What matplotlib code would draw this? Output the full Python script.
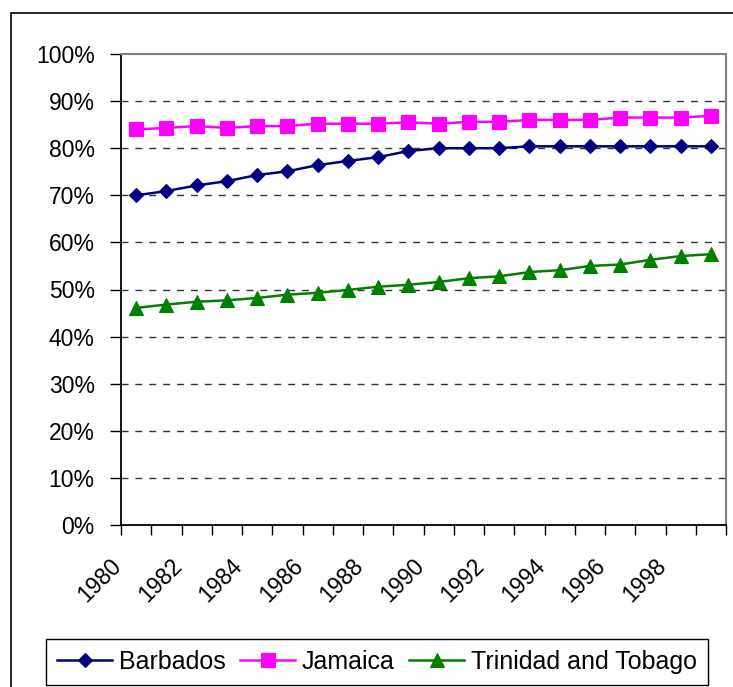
import numpy as np
import matplotlib.pyplot as plt
from matplotlib.patches import Rectangle
from matplotlib.ticker import PercentFormatter, FixedLocator
import matplotlib.transforms as mtransforms

# Dados (fracao da populacao, 1980-1999)
anos = list(range(1980, 2000))
barbados = [0.700, 0.709, 0.721, 0.730, 0.743, 0.751, 0.764, 0.773, 0.781, 0.794,
            0.800, 0.800, 0.800, 0.804, 0.804, 0.804, 0.804, 0.804, 0.804, 0.804]
jamaica = [0.840, 0.843, 0.847, 0.843, 0.847, 0.847, 0.852, 0.852, 0.852, 0.855,
           0.852, 0.856, 0.856, 0.860, 0.860, 0.860, 0.865, 0.865, 0.865, 0.869]
trinidad = [0.461, 0.468, 0.474, 0.477, 0.482, 0.489, 0.493, 0.499, 0.506, 0.510,
            0.516, 0.524, 0.528, 0.537, 0.541, 0.550, 0.553, 0.563, 0.571, 0.575]
series = ["Barbados", "Jamaica", "Trinidad and Tobago"]
y_ticks = [0.0, 0.1, 0.2, 0.3, 0.4, 0.5, 0.6, 0.7, 0.8, 0.9, 1.0]

plt.rcParams['font.family'] = ['Liberation Sans', 'DejaVu Sans']

fig = plt.figure(figsize=(7.33, 6.87), dpi=100)
W, H = 733, 687

# Moldura externa do grafico (estilo Excel)
fig.patches.append(Rectangle((11 / W, -0.1), 1.2, 1 - 13 / H + 0.1, transform=fig.transFigure,
                             fill=False, edgecolor='#000000', linewidth=1.2))

ax = fig.add_axes([121 / W, 1 - 525 / H, (726 - 121) / W, (525 - 54) / H])

x = np.arange(len(anos))
ax.plot(x, barbados, color='#000080', linewidth=1.8, marker='D', markersize=7.3,
        markeredgewidth=0.8, label=series[0], zorder=4)
ax.plot(x, jamaica, color='#FF00FF', linewidth=1.8, marker='s', markersize=9.5,
        markeredgewidth=0.8, label=series[1], zorder=3)
ax.plot(x, trinidad, color='#008000', linewidth=1.8, marker='^', markersize=10.5,
        markeredgewidth=0.8, label=series[2], zorder=3)

ax.set_xlim(-0.5, len(anos) - 0.5)
ax.set_ylim(0, 1)

# Eixo Y
ax.yaxis.set_major_locator(FixedLocator(y_ticks))
ax.yaxis.set_major_formatter(PercentFormatter(1.0, decimals=0))
ax.tick_params(axis='y', direction='out', length=8, width=1, pad=11, labelsize=16.5, colors='#000000')
for v in y_ticks[1:-1]:
    ax.axhline(v, color='#333333', linewidth=1, linestyle=(0, (5, 5)), zorder=1)

# Eixo X: marcas nas fronteiras das categorias, rotulo a cada dois anos
fronteiras = np.arange(len(anos) + 1) - 0.5
rotulos = [str(anos[i]) if i < len(anos) and i % 2 == 0 else '' for i in range(len(fronteiras))]
ax.set_xticks(fronteiras)
ax.set_xticklabels(rotulos)
ax.tick_params(axis='x', direction='out', length=7, width=1, pad=20, labelsize=16.5)
offset = mtransforms.ScaledTranslation(-3 / 100, 0, fig.dpi_scale_trans)
for lab in ax.get_xticklabels():
    lab.set_rotation(45)
    lab.set_ha('right')
    lab.set_va('center')
    lab.set_rotation_mode('anchor')
    lab.set_transform(lab.get_transform() + offset)

for lado in ['left', 'bottom']:
    ax.spines[lado].set_color('#000000')
    ax.spines[lado].set_linewidth(1.3)
for lado in ['top', 'right']:
    ax.spines[lado].set_color('#808080')
    ax.spines[lado].set_linewidth(1.5)

# Legenda na parte de baixo
leg = fig.legend(loc='center', bbox_to_anchor=((45 + 709) / 2 / W, 1 - 662 / H), ncol=3,
                 fontsize=18, frameon=True, fancybox=False, edgecolor='#000000', framealpha=1,
                 handlelength=2.2, handletextpad=0.25, columnspacing=0.6, borderpad=0.45,
                 borderaxespad=0)
leg.get_frame().set_linewidth(1)

plt.savefig('out.png', dpi=100)
